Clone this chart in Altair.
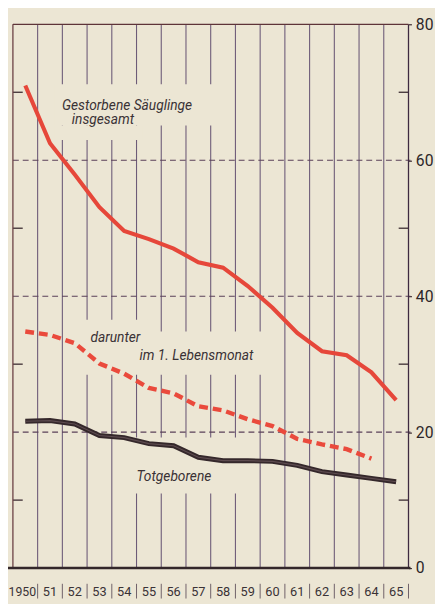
import altair as alt
import pandas as pd

# ---------------- data ----------------
years = list(range(1950, 1966))
year_labels = ["1950", "51", "52", "53", "54", "55", "56", "57",
               "58", "59", "60", "61", "62", "63", "64", "65"]
infant_total = [71.0, 62.5, 57.9, 53.1, 49.6, 48.4, 47.0, 45.0,
                44.2, 41.5, 38.3, 34.6, 31.9, 31.3, 28.8, 24.7]
neonatal_years = list(range(1950, 1965))
neonatal = [34.8, 34.3, 33.1, 30.1, 28.6, 26.5, 25.7, 23.8,
            23.2, 21.9, 20.9, 19.0, 18.2, 17.5, 16.1]
stillborn = [21.6, 21.7, 21.2, 19.5, 19.2, 18.3, 18.0, 16.3,
             15.8, 15.8, 15.7, 15.1, 14.2, 13.7, 13.2, 12.7]
y_tick_values = [0, 20, 40, 60, 80]
grid_values = [20, 40, 60]
minor_values = [10, 30, 50, 70]
label_total = ["Gestorbene Säuglinge", "insgesamt"]
label_neonatal = ["darunter", "im 1. Lebensmonat"]
label_still = ["Totgeborene"]

# ---------------- style ----------------
W, H = 403, 554
BG = "#ece6d4"
RED = "#e6473a"
DARK = "#35282b"
TXT = "#3a3236"
VLINE = "#6d5b78"

xs = alt.Scale(domain=[1949.5, 1965.5], nice=False, zero=False)
ys = alt.Scale(domain=[0, 80], nice=False)

YAXIS = alt.Axis(orient="right", values=y_tick_values, grid=False, domain=False,
                 ticks=True, tickSize=3, tickColor="#3a2a30", tickWidth=1.2,
                 labelPadding=4, labelFontSize=16, labelFont="Roboto",
                 labelColor="#2c2629", title=None)

df_years = pd.DataFrame({"year": years, "label": year_labels})
df_total = pd.DataFrame({"year": years, "v": infant_total})
df_neo = pd.DataFrame({"year": neonatal_years, "v": neonatal})
df_still = pd.DataFrame({"year": years, "v": stillborn})
df_grid = pd.DataFrame({"v": grid_values})
df_minor = pd.DataFrame({"v": minor_values})
dummy = pd.DataFrame({"k": [0]})

def X(f):
    return alt.X(f, scale=xs, axis=None)

def Y(f):
    return alt.Y(f, scale=ys, axis=YAXIS)

# vertical year separators inside the plot
vlines = alt.Chart(df_years).transform_calculate(b="datum.year + 0.5").transform_filter(
    "datum.b < 1965.4").mark_rule(color=VLINE, strokeWidth=1.1).encode(
    x=X("b:Q"), y=alt.value(0), y2=alt.value(H))

# dashed horizontal gridlines (carry the right axis)
grid = alt.Chart(df_grid).mark_rule(color="#5a4058", strokeWidth=1.1, strokeDash=[6, 4]).encode(
    y=Y("v:Q"), x=alt.value(0), x2=alt.value(W + 2))

# background patches that interrupt the vertical lines behind the labels
def patch(x1, x2, y1, y2):
    return alt.Chart(dummy).mark_rect(color=BG).encode(
        x=alt.value(x1), x2=alt.value(x2), y=alt.value(y1), y2=alt.value(y2))

patches = [patch(42, 209, 61, 103), patch(42, 132, 103, 118),
           patch(67, 137, 301, 357), patch(137, 259, 313, 357),
           patch(117, 232, 421, 478)]

# minor inward ticks
minor_l = alt.Chart(df_minor).mark_rule(color="#3a2a30", strokeWidth=1.3).encode(
    y=Y("v:Q"), x=alt.value(0), x2=alt.value(10))
minor_r = alt.Chart(df_minor).mark_rule(color="#3a2a30", strokeWidth=1.3).encode(
    y=Y("v:Q"), x=alt.value(W - 10), x2=alt.value(W))

# frame
left_b = alt.Chart(dummy).mark_rule(color="#6a4044", strokeWidth=1.3).encode(
    x=alt.value(0), y=alt.value(0), y2=alt.value(H))
right_b = alt.Chart(dummy).mark_rule(color="#3e2a40", strokeWidth=1.3).encode(
    x=alt.value(W), y=alt.value(0), y2=alt.value(H))
top_b = alt.Chart(dummy).mark_rule(color="#5e3438", strokeWidth=1.3).encode(
    x=alt.value(0), x2=alt.value(W), y=alt.value(0))
bottom_b = alt.Chart(dummy).mark_rule(color="#33272a", strokeWidth=2.6).encode(
    x=alt.value(-5), x2=alt.value(W + 2), y=alt.value(H))

# year labels and separators below
year_text = alt.Chart(df_years).transform_filter("datum.year > 1950").mark_text(
    font="Roboto", fontSize=13, color=TXT, baseline="middle").encode(
    x=X("year:Q"), y=alt.value(H + 24), text="label:N")
year_first = alt.Chart(df_years).transform_filter("datum.year == 1950").transform_calculate(
    b="datum.year + 0.5").mark_text(
    font="Roboto", fontSize=12.5, color=TXT, baseline="middle", align="right", dx=-1.5).encode(
    x=X("b:Q"), y=alt.value(H + 24), text="label:N")
seps = alt.Chart(df_years).transform_calculate(b="datum.year + 0.5").mark_rule(
    color="#6e6068", strokeWidth=1).encode(
    x=X("b:Q"), y=alt.value(H + 16), y2=alt.value(H + 31))

# data lines
line_total = alt.Chart(df_total).mark_line(color=RED, strokeWidth=4.2).encode(
    x=X("year:Q"), y=Y("v:Q"))
line_neo = alt.Chart(df_neo).mark_line(color="#ea4a3c", strokeWidth=4.5,
                                       strokeDash=[9, 5]).encode(
    x=X("year:Q"), y=Y("v:Q"))
line_still = alt.Chart(df_still).mark_line(color=DARK, strokeWidth=5).encode(
    x=X("year:Q"), y=Y("v:Q"))
line_still_in = alt.Chart(df_still).mark_line(color="#5e4c50", strokeWidth=1.2).encode(
    x=X("year:Q"), y=Y("v:Q"))

# annotations
def ann(txt, x, y):
    return alt.Chart(dummy).mark_text(
        text=txt, font="Roboto", fontStyle="italic", fontSize=14, color=TXT,
        align="left", baseline="alphabetic").encode(x=alt.value(x), y=alt.value(y))

anns = [ann(label_total[0], 50, 87), ann(label_total[1], 60, 102),
        ann(label_neonatal[0], 79, 324), ann(label_neonatal[1], 129, 342),
        ann(label_still[0], 126, 465)]

chart = alt.layer(
    vlines, grid, *patches, minor_l, minor_r, left_b, right_b, top_b,
    line_total, line_neo, line_still, line_still_in, bottom_b,
    year_text, year_first, seps, *anns
).properties(
    width=W, height=H,
    padding={"left": 5, "top": 11, "right": 27, "bottom": 31},
    autosize=alt.AutoSizeParams(type="none"),
    background=BG,
).configure_view(stroke=None, fill=BG)

chart.save("out.html", embed_options={"renderer": "svg", "actions": False})
